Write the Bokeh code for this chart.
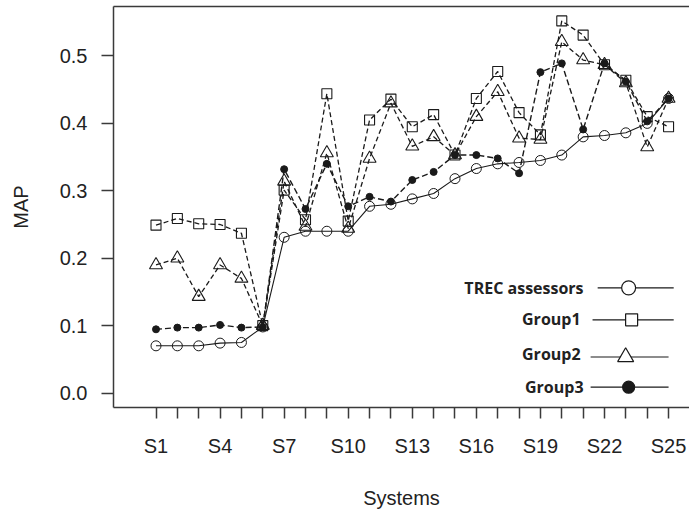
from bokeh.plotting import figure
from bokeh.models import LinearAxis, FixedTicker, Range1d, Label, ColumnDataSource
from bokeh.embed import file_html
from bokeh.resources import INLINE

# ---------------- data ----------------
systems = ["S%d" % i for i in range(1, 26)]
sys_idx = list(range(1, 26))
shown_ticks = ["S1", "S4", "S7", "S10", "S13", "S16", "S19", "S22", "S25"]

trec = [0.070, 0.070, 0.070, 0.074, 0.075, 0.098, 0.231, 0.240, 0.240, 0.240,
        0.277, 0.280, 0.288, 0.296, 0.318, 0.333, 0.340, 0.342, 0.345, 0.353,
        0.380, 0.382, 0.386, 0.400, 0.437]
group1 = [0.249, 0.259, 0.251, 0.250, 0.237, 0.100, 0.301, 0.257, 0.444, 0.255,
          0.405, 0.436, 0.395, 0.413, 0.353, 0.437, 0.477, 0.416, 0.383, 0.552,
          0.531, 0.487, 0.464, 0.410, 0.395]
group2 = [0.190, 0.200, 0.143, 0.190, 0.170, 0.100, 0.314, 0.247, 0.356, 0.244,
          0.348, 0.430, 0.366, 0.380, 0.353, 0.410, 0.447, 0.378, 0.376, 0.521,
          0.494, 0.487, 0.460, 0.365, 0.437]
group3 = [0.0945, 0.097, 0.097, 0.101, 0.097, 0.098, 0.332, 0.273, 0.340, 0.277,
          0.291, 0.284, 0.316, 0.328, 0.353, 0.353, 0.348, 0.326, 0.476, 0.489,
          0.391, 0.489, 0.462, 0.403, 0.437]
y_ticks = [0.0, 0.1, 0.2, 0.3, 0.4, 0.5]
series_names = ["TREC assessors", "Group1", "Group2", "Group3"]

# ---------------- figure ----------------
INK = "#1a1a1a"
TXT = "#222222"
AX = "#3a3a3a"

p = figure(width=689, height=514, output_backend="svg", toolbar_location=None,
           x_range=Range1d(-0.99, 25.98), y_range=Range1d(-0.0215, 0.5734),
           min_border_left=113, min_border_right=0, min_border_top=6,
           min_border_bottom=107, x_axis_type=None, y_axis_type=None)
p.outline_line_color = None
p.background_fill_color = "white"
p.border_fill_color = "white"
p.xgrid.visible = False
p.ygrid.visible = False

# bottom axis
xa = LinearAxis(ticker=FixedTicker(ticks=sys_idx),
                major_label_overrides={i: (s if s in shown_ticks else "")
                                       for i, s in zip(sys_idx, systems)},
                axis_label="Systems")
# left axis
ya = LinearAxis(ticker=FixedTicker(ticks=y_ticks),
                major_label_overrides={v: "%.1f" % v for v in y_ticks},
                axis_label="MAP")
for ax in (xa, ya):
    ax.axis_line_color = AX
    ax.axis_line_width = 1.5
    ax.major_tick_line_color = AX
    ax.major_tick_line_width = 1.5
    ax.major_tick_in = 0
    ax.minor_tick_line_color = None
    ax.major_label_text_font = "Liberation Sans"
    ax.major_label_text_font_size = "20px"
    ax.major_label_text_color = TXT
    ax.axis_label_text_font = "Liberation Sans"
    ax.axis_label_text_font_size = "20px"
    ax.axis_label_text_font_style = "normal"
    ax.axis_label_text_color = TXT
xa.major_tick_out = 11
xa.major_label_standoff = 16
xa.axis_label_standoff = 27
ya.major_tick_out = 12
ya.major_label_standoff = 14
ya.major_label_orientation = "horizontal"
ya.axis_label_standoff = 25
p.add_layout(xa, "below")
p.add_layout(ya, "left")

# top frame line
ta = LinearAxis(ticker=FixedTicker(ticks=[]), major_label_text_font_size="0px",
                major_tick_out=0, major_tick_in=0, minor_tick_out=0, minor_tick_in=0,
                axis_line_color=AX, axis_line_width=1.5, major_label_standoff=0)
p.add_layout(ta, "above")

src = ColumnDataSource(dict(x=sys_idx, trec=trec, g1=group1, g2=group2, g3=group3))

# series
p.line("x", "trec", source=src, line_color=INK, line_width=1.1)
p.scatter("x", "trec", source=src, marker="circle", size=10, fill_color=None,
          line_color=INK, line_width=1)

p.line("x", "g1", source=src, line_color=INK, line_width=1.3, line_dash="5 3")
p.scatter("x", "g1", source=src, marker="square", size=10, fill_color=None,
          line_color=INK, line_width=1.1)

p.line("x", "g2", source=src, line_color=INK, line_width=1.3, line_dash="5 3")
p.scatter("x", "g2", source=src, marker="triangle", size=13, fill_color=None,
          line_color=INK, line_width=1.1)

p.line("x", "g3", source=src, line_color=INK, line_width=1.4, line_dash="6 3")
p.scatter("x", "g3", source=src, marker="circle", size=7, fill_color=INK,
          line_color=INK)

# ---------------- legend (layout positions, data units) ----------------
leg_rows = [
    # text_x, text_y, line_x0, line_x1, line_y, marker_x, marker, size, fill
    (21.02, 0.156, 21.68, 25.24, 0.156, 23.13, "circle", 14, "white"),
    (20.88, 0.110, 21.44, 25.24, 0.1086, 23.27, "square", 12, "white"),
    (20.88, 0.0586, 21.35, 25.00, 0.0534, 22.99, "triangle", 16, "white"),
    (21.02, 0.0096, 21.35, 25.00, 0.0086, 23.13, "circle", 12, INK),
]
for name, (tx, ty, lx0, lx1, ly, mx, mk, ms, mf) in zip(series_names, leg_rows):
    p.line([lx0, lx1], [ly, ly], line_color=INK, line_width=1.2)
    p.scatter([mx], [ly], marker=mk, size=ms, fill_color=mf, line_color=INK,
              line_width=1.2)
    p.add_layout(Label(x=tx, y=ty, text=name, text_align="right",
                       text_baseline="middle", text_font="Open Sans",
                       text_font_size="16px", text_font_style="bold",
                       text_color=TXT))

open("out.html", "w").write(file_html(p, INLINE))
